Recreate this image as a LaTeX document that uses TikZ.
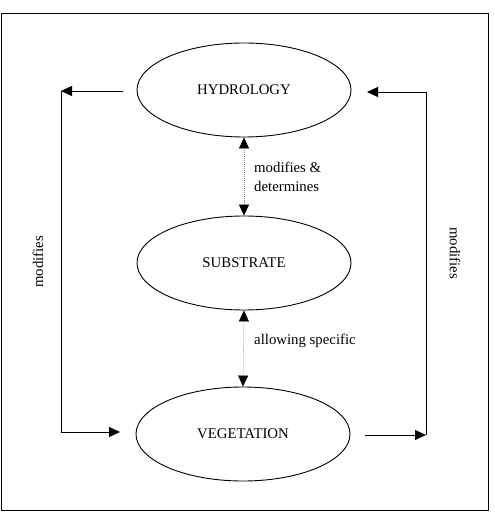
\documentclass[tikz,border=0pt]{standalone}
\usepackage{fontspec}
\setmainfont{Liberation Serif}
\usetikzlibrary{arrows.meta,shapes.geometric}
\begin{document}
\begin{tikzpicture}[x=1pt,y=-1pt,
  every node/.style={font=\fontsize{14.8}{18.5}\selectfont},
  oval/.style={draw,line width=0.9pt,ellipse,minimum width=214pt,minimum height=94pt,inner sep=0pt},
  flow/.style={line width=0.8pt,-{Triangle[length=11pt,width=10pt]}},
  dotlink/.style={line width=0.6pt,draw=gray,dash pattern=on 0.8pt off 1.2pt,{Triangle[length=11pt,width=10pt,color=black,fill=black]}-{Triangle[length=11pt,width=10pt,color=black,fill=black]}},
  lbl/.style={align=left,inner sep=0pt,anchor=west}]
\useasboundingbox (0,0) rectangle (494,518);
\draw[line width=0.9pt] (1,13) rectangle (488,510);
\node[oval] (hyd) at (244,90) {HYDROLOGY};
\node[oval] (sub) at (244,263) {SUBSTRATE};
\node[oval] (veg) at (243,434) {VEGETATION};
\coordinate (hl) at (123,91);
\coordinate (hlc) at (61,91);
\coordinate (vlc) at (61,432);
\coordinate (vl) at (120,432);
\coordinate (vr) at (365,435);
\coordinate (vrc) at (426,435);
\coordinate (hrc) at (426,92);
\coordinate (hr) at (367,92);
\draw[flow] (hl) -- (hlc);
\draw[flow] (hlc) -- (vlc) -- (vl);
\draw[flow] (vr) -- (vrc);
\draw[flow] (vrc) -- (hrc) -- (hr);
\draw[dotlink] (hyd.south) -- (sub.north);
\draw[dotlink] (sub.south) -- (veg.north);
\node[lbl] (l1) at (254,177) {modifies \&\\determines};
\node[lbl] (l2) at (254,341) {allowing specific};
\node[rotate=90] (lm) at (38,262) {modifies};
\node[rotate=-90] (rm) at (455,253) {modifies};
\end{tikzpicture}
\end{document}
